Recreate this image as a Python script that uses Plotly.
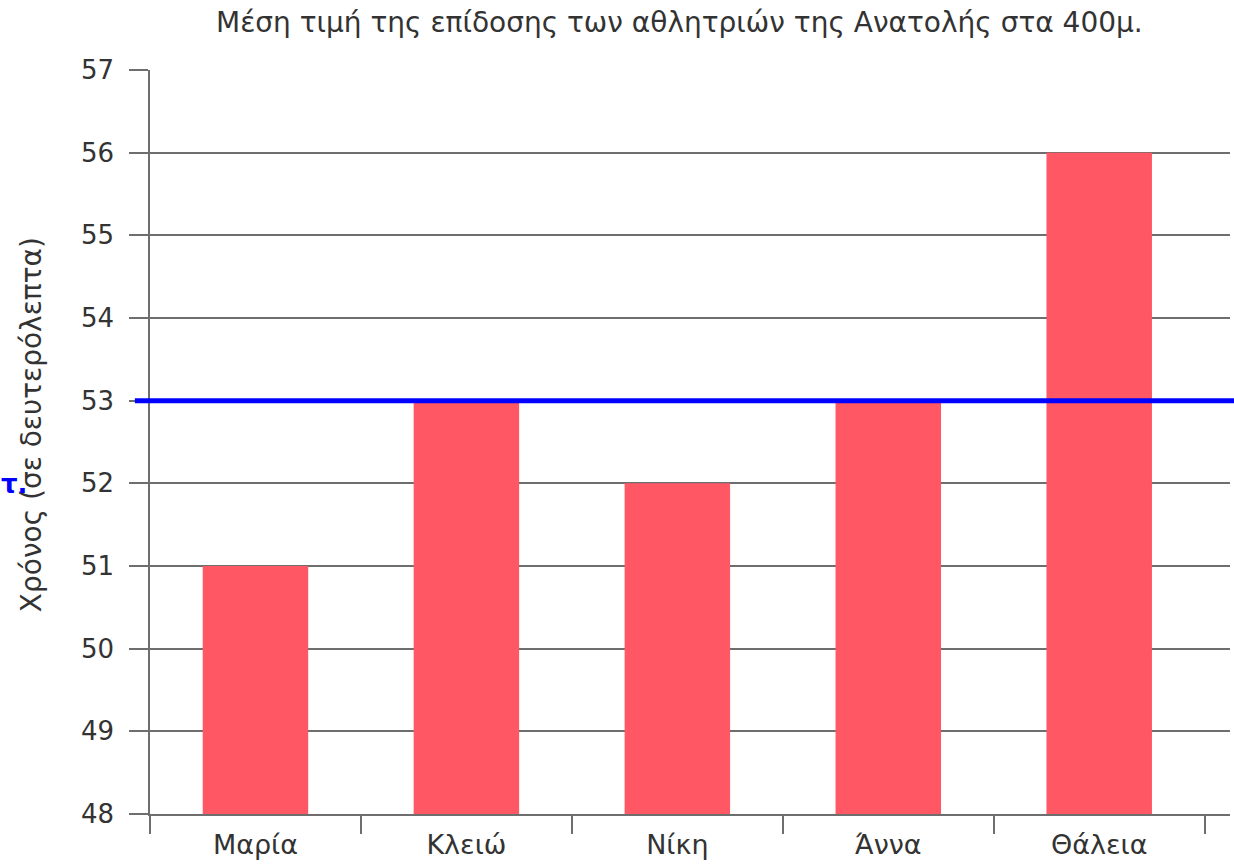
import plotly.graph_objects as go

# Average 400m times per athlete (seconds)
athletes = ["Μαρία", "Κλειώ", "Νίκη", "Άννα", "Θάλεια"]
times = [51, 53, 52, 53, 56]
mean_time = 53
y_ticks = [48, 49, 50, 51, 52, 53, 54, 55, 56, 57]

title_text = "Μέση τιμή της επίδοσης των αθλητριών της Ανατολής στα 400μ."
y_title = "Χρόνος (σε δευτερόλεπτα)"

font_family = "DejaVu Sans"
text_color = "#333333"
grid_color = "#6e6e6e"

fig = go.Figure()
fig.add_trace(go.Bar(
    x=athletes,
    y=[t - y_ticks[0] for t in times],
    base=y_ticks[0],
    marker=dict(color="#FF5764", line=dict(width=0)),
    width=0.5,
    hoverinfo="skip",
))

fig.update_layout(
    width=1234,
    height=864,
    margin=dict(l=150, r=4, t=70, b=50),
    paper_bgcolor="white",
    plot_bgcolor="white",
    showlegend=False,
    font=dict(family=font_family, size=26, color=text_color),
    bargap=0.5,
)

fig.update_xaxes(
    range=[-0.5, 4.62],
    tickson="boundaries",
    ticks="outside",
    ticklen=18,
    tickwidth=1.5,
    tickcolor=grid_color,
    showgrid=False,
    showline=True,
    linecolor=grid_color,
    linewidth=1.5,
    ticklabelstandoff=6,
    tickfont=dict(size=27, color=text_color),
)

fig.update_yaxes(
    range=[y_ticks[0], y_ticks[-1]],
    tickvals=y_ticks,
    ticks="outside",
    ticklen=19,
    tickwidth=1.5,
    tickcolor=grid_color,
    showgrid=True,
    gridcolor=grid_color,
    gridwidth=1.5,
    showline=True,
    linecolor=grid_color,
    linewidth=1.5,
    zeroline=False,
    ticklabelstandoff=10,
    tickfont=dict(size=26, color=text_color),
)

# Mean line at 53 s
fig.add_shape(
    type="line",
    xref="paper", yref="y",
    x0=-0.014, x1=1.01,
    y0=mean_time, y1=mean_time,
    line=dict(color="#0000FF", width=5),
    layer="above",
)

# Chart title
fig.add_annotation(
    text=title_text,
    xref="paper", yref="paper",
    x=0.49, y=1.0, yshift=48,
    xanchor="center", yanchor="middle",
    showarrow=False,
    font=dict(size=28, color=text_color),
)

# Y-axis title
fig.add_annotation(
    text=y_title,
    xref="paper", yref="paper",
    x=-0.109, y=0.523,
    xanchor="center", yanchor="middle",
    textangle=-90,
    showarrow=False,
    font=dict(size=28, color=text_color),
)

# Small blue mark at the left edge
fig.add_annotation(
    text="<b>τ.</b>",
    xref="paper", yref="paper",
    x=-0.1389, y=0.4435,
    xanchor="left", yanchor="middle",
    showarrow=False,
    borderpad=0,
    font=dict(size=26, color="#0000FF"),
)

fig.write_html("out.html")
